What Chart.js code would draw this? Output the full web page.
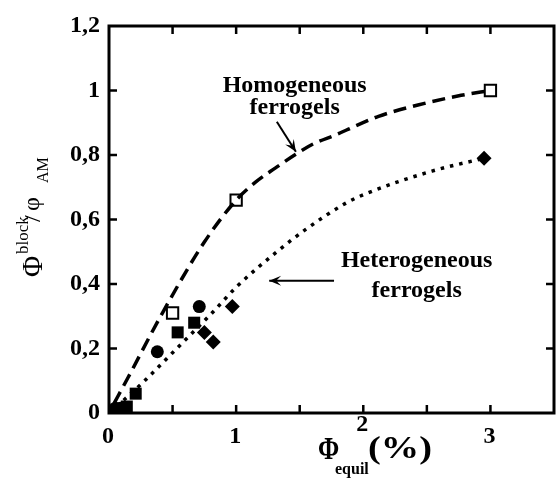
<!DOCTYPE html>
<html>
<head>
<meta charset="utf-8">
<script src="https://cdn.jsdelivr.net/npm/chart.js@4.4.1/dist/chart.umd.min.js"></script>
<style>
  body { margin: 0; background: #fff; }
  #wrap { width: 557px; height: 478px; }
</style>
</head>
<body>
<div id="wrap"><canvas id="ferroChart" width="557" height="478"></canvas></div>
<script>
const SERIF = "'Liberation Serif', 'Times New Roman', serif";

// dashed fit, homogeneous ferrogels
const homFitX = [0.04, 0.15, 0.42, 0.75, 1.0, 1.15, 1.31, 1.46, 1.61, 1.78, 1.94, 2.12, 2.43, 2.77, 3.0];
const homFitY = [0.03, 0.11, 0.31, 0.53, 0.66, 0.715, 0.76, 0.80, 0.835, 0.862, 0.89, 0.92, 0.955, 0.985, 1.0];

// dotted fit, heterogeneous ferrogels
const hetFitX = [0.06, 0.27, 0.5, 0.81, 1.0, 1.32, 1.55, 1.86, 2.02, 2.54, 2.95];
const hetFitY = [0.02, 0.096, 0.187, 0.31, 0.39, 0.50, 0.57, 0.65, 0.68, 0.75, 0.79];

// measured points
const openSqX = [0.5, 1.0, 3.0];
const openSqY = [0.31, 0.66, 1.0];
const fillSqX = [0.14, 0.21, 0.54, 0.67];
const fillSqY = [0.02, 0.06, 0.25, 0.28];
const circleX = [0.05, 0.09, 0.38, 0.71];
const circleY = [0.015, 0.015, 0.19, 0.33];
const diamondX = [0.75, 0.82, 0.97, 2.95];
const diamondY = [0.25, 0.22, 0.33, 0.79];

const xTickLabels = ['0', '', '1', '', '2', '', '3', ''];
const yTickLabels = ['0', '0,2', '0,4', '0,6', '0,8', '1', '1,2'];

const toPoints = (xs, ys) => xs.map((x, i) => ({ x: x, y: ys[i] }));

// draws the box, inward ticks, x labels, axis titles and the two notes
const decorations = {
    id: 'decorations',
    afterDraw(chart) {
        const { ctx, chartArea: a, scales } = chart;
        const sx = scales.x, sy = scales.y;
        ctx.save();
        ctx.strokeStyle = '#000';
        ctx.fillStyle = '#000';

        ctx.lineWidth = 3;
        ctx.strokeRect(a.left, a.top, a.right - a.left, a.bottom - a.top);

        ctx.lineWidth = 2.5;
        ctx.beginPath();
        sx.ticks.forEach(t => {
            const px = sx.getPixelForValue(t.value);
            if (px <= a.left + 2 || px >= a.right - 2) return;
            ctx.moveTo(px, a.bottom); ctx.lineTo(px, a.bottom - 8);
            ctx.moveTo(px, a.top); ctx.lineTo(px, a.top + 8);
        });
        sy.ticks.forEach(t => {
            const py = sy.getPixelForValue(t.value);
            if (py <= a.top + 2 || py >= a.bottom - 2) return;
            ctx.moveTo(a.left, py); ctx.lineTo(a.left + 8, py);
            ctx.moveTo(a.right, py); ctx.lineTo(a.right - 8, py);
        });
        ctx.stroke();

        // x tick labels (the "2" sits higher, above the title)
        ctx.textAlign = 'center';
        ctx.textBaseline = 'middle';
        ctx.font = 'bold 24px ' + SERIF;
        sx.ticks.forEach((t, i) => {
            const lab = xTickLabels[i];
            if (!lab) return;
            const lift = lab === '2' ? 12 : 0;
            ctx.fillText(lab, sx.getPixelForValue(t.value) - 1, a.bottom + 24 - lift);
        });

        // x title
        ctx.textBaseline = 'alphabetic';
        ctx.textAlign = 'left';
        ctx.save();
        ctx.translate(318, 459);
        ctx.scale(0.8, 1);
        ctx.font = 'bold 32px ' + SERIF;
        ctx.fillText('\u03A6', 0, 0);
        ctx.restore();
        ctx.font = 'bold 16px ' + SERIF;
        ctx.fillText('equil', 335, 474);
        ctx.save();
        ctx.translate(368, 458);
        ctx.scale(1.2, 1);
        ctx.font = 'bold 32px ' + SERIF;
        ctx.fillText('(%)', 0, 0);
        ctx.restore();

        // y title, rotated
        ctx.save();
        ctx.translate(42, 277);
        ctx.rotate(-Math.PI / 2);
        ctx.font = '29px ' + SERIF;
        ctx.fillText('\u03A6', 0, 0);
        ctx.font = '17px ' + SERIF;
        ctx.fillText('block', 23, -14);
        ctx.font = '24px ' + SERIF;
        ctx.fillText('/', 55, -2);
        ctx.fillText('\u03C6', 66, -3);
        ctx.font = '16px ' + SERIF;
        ctx.fillText('AM', 94, 6);
        ctx.restore();

        // notes
        const px = v => sx.getPixelForValue(v);
        const py = v => sy.getPixelForValue(v);
        ctx.textAlign = 'center';
        ctx.font = 'bold 24px ' + SERIF;
        ctx.fillText('Homogeneous', px(1.46), py(0.995));
        ctx.fillText('ferrogels', px(1.46), py(0.927));
        ctx.fillText('Heterogeneous', px(2.42), py(0.453));
        ctx.fillText('ferrogels', px(2.42), py(0.36));

        const arrow = (x0, y0, x1, y1) => {
            const X0 = px(x0), Y0 = py(y0), X1 = px(x1), Y1 = py(y1);
            const ang = Math.atan2(Y1 - Y0, X1 - X0);
            ctx.lineWidth = 2;
            ctx.beginPath();
            ctx.moveTo(X0, Y0); ctx.lineTo(X1, Y1);
            ctx.stroke();
            ctx.beginPath();
            ctx.moveTo(X1 - 13 * Math.cos(ang - 0.4), Y1 - 13 * Math.sin(ang - 0.4));
            ctx.lineTo(X1, Y1);
            ctx.lineTo(X1 - 13 * Math.cos(ang + 0.4), Y1 - 13 * Math.sin(ang + 0.4));
            ctx.lineTo(X1 - 7 * Math.cos(ang), Y1 - 7 * Math.sin(ang));
            ctx.closePath();
            ctx.fill();
        };
        arrow(1.32, 0.903, 1.47, 0.81);
        arrow(1.77, 0.41, 1.26, 0.41);

        ctx.restore();
    }
};

new Chart(document.getElementById('ferroChart'), {
    type: 'scatter',
    data: {
        datasets: [
            {
                label: 'homogeneous fit',
                data: toPoints(homFitX, homFitY),
                showLine: true,
                borderColor: '#000',
                borderWidth: 3.5,
                borderDash: [13, 7],
                cubicInterpolationMode: 'monotone',
                pointRadius: 0
            },
            {
                label: 'heterogeneous fit',
                data: toPoints(hetFitX, hetFitY),
                showLine: true,
                borderColor: '#000',
                borderWidth: 3.5,
                borderDash: [3.5, 6],
                cubicInterpolationMode: 'monotone',
                pointRadius: 0
            },
            {
                label: 'open squares',
                data: toPoints(openSqX, openSqY),
                pointStyle: 'rect',
                pointRadius: 8,
                pointBorderWidth: 2,
                pointBorderColor: '#000',
                pointBackgroundColor: '#fff'
            },
            {
                label: 'filled squares',
                data: toPoints(fillSqX, fillSqY),
                pointStyle: 'rect',
                pointRadius: 8.5,
                pointBorderWidth: 0,
                pointBackgroundColor: '#000'
            },
            {
                label: 'circles',
                data: toPoints(circleX, circleY),
                pointStyle: 'circle',
                pointRadius: 6.5,
                pointBorderWidth: 0,
                pointBackgroundColor: '#000'
            },
            {
                label: 'diamonds',
                data: toPoints(diamondX, diamondY),
                pointStyle: 'rectRot',
                pointRadius: 7.5,
                pointBorderWidth: 0,
                pointBackgroundColor: '#000'
            }
        ]
    },
    options: {
        responsive: false,
        animation: false,
        layout: { autoPadding: false, padding: { top: 26, right: 3, left: 0, bottom: 0 } },
        plugins: {
            legend: { display: false },
            tooltip: { enabled: false }
        },
        scales: {
            x: {
                type: 'linear',
                min: 0,
                max: 3.5,
                grid: { display: false, drawTicks: false },
                border: { display: false },
                ticks: { display: false, stepSize: 0.5, autoSkip: false },
                afterFit: s => { s.height = 65; s.paddingLeft = 0; s.paddingRight = 0; }
            },
            y: {
                type: 'linear',
                min: 0,
                max: 1.2,
                grid: { display: false, drawTicks: false },
                border: { display: false },
                ticks: {
                    stepSize: 0.2,
                    padding: 9,
                    color: '#000',
                    autoSkip: false,
                    font: { family: SERIF, size: 24, weight: 'bold' },
                    callback: (v, i) => yTickLabels[i]
                },
                afterFit: s => { s.width = 109; }
            }
        }
    },
    plugins: [decorations]
});
</script>
</body>
</html>
